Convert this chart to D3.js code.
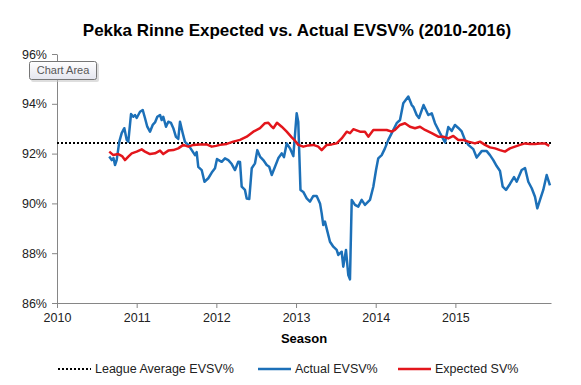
<!DOCTYPE html>
<html>
<head>
<meta charset="utf-8">
<script src="https://cdn.jsdelivr.net/npm/d3@7"></script>
<style>
  body { margin: 0; background: #fff; }
  text { font-family: "Liberation Sans", Arial, sans-serif; }
</style>
</head>
<body>
<svg id="chart"></svg>
<script>
// season as decimal year, save %
var actualYear = [2010.656, 2010.687, 2010.709, 2010.728, 2010.749, 2010.782, 2010.812, 2010.845, 2010.875, 2010.895,
  2010.929, 2010.958, 2010.979, 2011.000, 2011.042, 2011.076, 2011.104, 2011.133, 2011.167, 2011.201,
  2011.230, 2011.259, 2011.293, 2011.314, 2011.334, 2011.368, 2011.397, 2011.431, 2011.460, 2011.493,
  2011.522, 2011.544, 2011.578, 2011.606, 2011.648, 2011.691, 2011.732, 2011.753, 2011.773, 2011.816,
  2011.851, 2011.899, 2011.942, 2011.983, 2012.008, 2012.067, 2012.108, 2012.150, 2012.193, 2012.234,
  2012.275, 2012.297, 2012.318, 2012.359, 2012.381, 2012.413, 2012.444, 2012.485, 2012.514, 2012.548,
  2012.589, 2012.632, 2012.664, 2012.695, 2012.736, 2012.777, 2012.820, 2012.849, 2012.883, 2012.924,
  2012.966, 2013.008, 2013.028, 2013.056, 2013.091, 2013.134, 2013.175, 2013.217, 2013.259, 2013.301,
  2013.322, 2013.342, 2013.363, 2013.426, 2013.468, 2013.510, 2013.530, 2013.573, 2013.593, 2013.627,
  2013.656, 2013.677, 2013.699, 2013.740, 2013.781, 2013.824, 2013.865, 2013.928, 2013.970, 2014.004,
  2014.032, 2014.075, 2014.116, 2014.158, 2014.201, 2014.263, 2014.305, 2014.346, 2014.409, 2014.452,
  2014.472, 2014.514, 2014.543, 2014.600, 2014.660, 2014.703, 2014.744, 2014.807, 2014.870, 2014.911,
  2014.954, 2014.995, 2015.037, 2015.079, 2015.120, 2015.162, 2015.225, 2015.267, 2015.330, 2015.393,
  2015.434, 2015.476, 2015.518, 2015.560, 2015.594, 2015.635, 2015.685, 2015.736, 2015.769, 2015.832,
  2015.874, 2015.915, 2015.958, 2015.999, 2016.028, 2016.062, 2016.103, 2016.146, 2016.187];
var actualSV = [91.88, 91.74, 91.82, 91.54, 91.74, 92.48, 92.82, 93.02, 92.55, 92.48,
  93.59, 93.48, 93.55, 93.43, 93.68, 93.75, 93.43, 93.08, 92.88, 93.15,
  93.25, 93.48, 93.55, 93.35, 93.48, 93.08, 93.28, 93.23, 93.02, 92.67,
  92.59, 93.28, 92.82, 92.47, 92.35, 92.14, 91.94, 92.06, 91.47, 91.34,
  90.87, 91.01, 91.24, 91.41, 91.78, 91.67, 91.81, 91.74, 91.58, 91.34,
  91.67, 91.66, 90.67, 90.54, 90.20, 90.18, 91.41, 91.61, 92.14, 91.88,
  91.74, 91.54, 91.47, 91.14, 91.47, 91.81, 92.01, 91.86, 92.41, 92.21,
  91.90, 93.62, 93.27, 90.54, 90.46, 90.20, 90.07, 90.30, 90.30, 90.00,
  89.60, 89.13, 89.27, 88.46, 88.26, 88.13, 87.93, 88.06, 87.46, 88.13,
  87.12, 86.95, 90.14, 89.94, 89.87, 90.14, 89.94, 90.14, 90.67, 91.34,
  91.81, 91.94, 92.21, 92.55, 92.82, 93.22, 93.35, 94.02, 94.29, 93.95,
  93.88, 93.55, 93.43, 93.95, 93.55, 93.62, 93.22, 92.82, 92.45, 93.07,
  92.91, 93.15, 93.03, 92.89, 92.55, 92.35, 92.18, 91.84, 92.10, 92.10,
  91.94, 91.74, 91.50, 91.30, 90.67, 90.54, 90.78, 91.06, 90.87, 91.34,
  91.42, 90.87, 90.61, 90.27, 89.80, 90.14, 90.54, 91.14, 90.72];

var expectedYear = [2010.656, 2010.707, 2010.769, 2010.816, 2010.853, 2010.895, 2010.938, 2011.000, 2011.063, 2011.104,
  2011.167, 2011.230, 2011.293, 2011.334, 2011.397, 2011.460, 2011.522, 2011.585, 2011.648, 2011.711,
  2011.795, 2011.879, 2011.942, 2011.995, 2012.046, 2012.130, 2012.213, 2012.297, 2012.381, 2012.464,
  2012.548, 2012.610, 2012.652, 2012.695, 2012.715, 2012.761, 2012.820, 2012.883, 2012.946, 2012.987,
  2013.028, 2013.091, 2013.154, 2013.217, 2013.279, 2013.322, 2013.385, 2013.448, 2013.510, 2013.573,
  2013.636, 2013.677, 2013.719, 2013.803, 2013.865, 2013.907, 2013.970, 2014.054, 2014.138, 2014.201,
  2014.242, 2014.305, 2014.367, 2014.430, 2014.493, 2014.556, 2014.619, 2014.703, 2014.785, 2014.848,
  2014.911, 2014.974, 2015.037, 2015.099, 2015.162, 2015.246, 2015.309, 2015.372, 2015.434, 2015.497,
  2015.560, 2015.622, 2015.685, 2015.748, 2015.811, 2015.874, 2015.936, 2015.999, 2016.062, 2016.125,
  2016.178];
var expectedSV = [92.08, 91.94, 91.98, 91.90, 91.74, 91.88, 92.01, 92.08, 92.17, 92.08,
  91.98, 92.01, 92.12, 91.98, 92.12, 92.14, 92.21, 92.35, 92.28, 92.35,
  92.37, 92.37, 92.28, 92.31, 92.35, 92.39, 92.48, 92.55, 92.68, 92.88,
  93.02, 93.22, 93.24, 93.08, 93.02, 93.24, 93.08, 92.88, 92.65, 92.52,
  92.35, 92.28, 92.33, 92.35, 92.28, 92.14, 92.35, 92.37, 92.41, 92.61,
  92.88, 92.82, 92.98, 92.88, 92.88, 92.68, 92.95, 92.95, 92.95, 92.88,
  92.95, 93.15, 93.22, 93.08, 93.02, 93.08, 92.95, 92.82, 92.68, 92.68,
  92.61, 92.71, 92.55, 92.55, 92.48, 92.41, 92.48, 92.35, 92.25, 92.21,
  92.14, 92.08, 92.21, 92.28, 92.35, 92.41, 92.39, 92.39, 92.41, 92.41,
  92.31];

var leagueAverage = 92.43;
var yTicks = [86, 88, 90, 92, 94, 96];
var xTicks = [2010, 2011, 2012, 2013, 2014, 2015];

var width = 581, height = 385;
var svg = d3.select('#chart').attr('width', width).attr('height', height);

var x = d3.scaleLinear().domain([2010, 2016.2]).range([57, 551]);
var y = d3.scaleLinear().domain([86, 96]).range([303, 54]);

// title
svg.append('text')
  .attr('x', 297).attr('y', 36)
  .attr('text-anchor', 'middle')
  .style('font-size', '17px').style('font-weight', 'bold')
  .text('Pekka Rinne Expected vs. Actual EVSV% (2010-2016)');

// y axis
var yAxis = svg.append('g')
  .attr('transform', 'translate(57,0)')
  .call(d3.axisLeft(y).tickValues(yTicks).tickSize(5).tickSizeOuter(0)
    .tickFormat(function (d) { return d + '%'; }));

// x axis
var xAxis = svg.append('g')
  .attr('transform', 'translate(0,303)')
  .call(d3.axisBottom(x).tickValues(xTicks).tickSize(5).tickSizeOuter(0)
    .tickFormat(d3.format('d')));

[yAxis, xAxis].forEach(function (g) {
  g.select('.domain').attr('stroke', '#868686');
  g.selectAll('.tick line').attr('stroke', '#868686');
  g.selectAll('.tick text').attr('fill', '#222').style('font-size', '12.5px')
    .style('font-family', '"Liberation Sans", Arial, sans-serif');
});
yAxis.selectAll('.tick text').attr('x', -10);
xAxis.selectAll('.tick text').attr('y', 10);

svg.append('text')
  .attr('x', 304).attr('y', 343)
  .attr('text-anchor', 'middle')
  .style('font-size', '13px').style('font-weight', 'bold')
  .text('Season');

// league average
svg.append('line')
  .attr('x1', x(2010)).attr('x2', x(2016.2))
  .attr('y1', y(leagueAverage)).attr('y2', y(leagueAverage))
  .attr('stroke', '#000').attr('stroke-width', 2)
  .attr('stroke-dasharray', '2,2');

var line = d3.line()
  .x(function (d) { return x(d[0]); })
  .y(function (d) { return y(d[1]); });

svg.append('path')
  .datum(d3.zip(actualYear, actualSV))
  .attr('d', line)
  .attr('fill', 'none')
  .attr('stroke', '#1c70b8')
  .attr('stroke-width', 2.5)
  .attr('stroke-linejoin', 'round');

svg.append('path')
  .datum(d3.zip(expectedYear, expectedSV))
  .attr('d', line)
  .attr('fill', 'none')
  .attr('stroke', '#e3161c')
  .attr('stroke-width', 2.5)
  .attr('stroke-linejoin', 'round');

// legend
var legend = [
  { label: 'League Average EVSV%', color: '#000', dash: '2,2', w: 2, x: 58 },
  { label: 'Actual EVSV%', color: '#1c70b8', dash: null, w: 2.5, x: 258 },
  { label: 'Expected SV%', color: '#e3161c', dash: null, w: 2.5, x: 398 }
];
var lg = svg.append('g').attr('transform', 'translate(0,369)');
legend.forEach(function (d) {
  lg.append('line')
    .attr('x1', d.x).attr('x2', d.x + 33)
    .attr('stroke', d.color).attr('stroke-width', d.w)
    .attr('stroke-dasharray', d.dash);
  lg.append('text')
    .attr('x', d.x + 37).attr('dy', '0.35em')
    .style('font-size', '12.5px').attr('fill', '#222')
    .text(d.label);
});

// "Chart Area" tooltip left over in the screenshot
var defs = svg.append('defs');
var grad = defs.append('linearGradient').attr('id', 'tip').attr('x1', 0).attr('y1', 0).attr('x2', 0).attr('y2', 1);
grad.append('stop').attr('offset', '0%').attr('stop-color', '#ffffff');
grad.append('stop').attr('offset', '100%').attr('stop-color', '#e4e5ee');
svg.append('rect')
  .attr('x', 31).attr('y', 63).attr('width', 68).attr('height', 19)
  .attr('rx', 2).attr('fill', '#c8c8c8').attr('opacity', 0.6);
svg.append('rect')
  .attr('x', 29.5).attr('y', 61.5).attr('width', 67).attr('height', 18)
  .attr('rx', 2).attr('fill', 'url(#tip)').attr('stroke', '#767676');
svg.append('text')
  .attr('x', 63).attr('y', 70.5).attr('dy', '0.35em')
  .attr('text-anchor', 'middle')
  .style('font-size', '11px').attr('fill', '#575757')
  .text('Chart Area');
</script>
</body>
</html>
